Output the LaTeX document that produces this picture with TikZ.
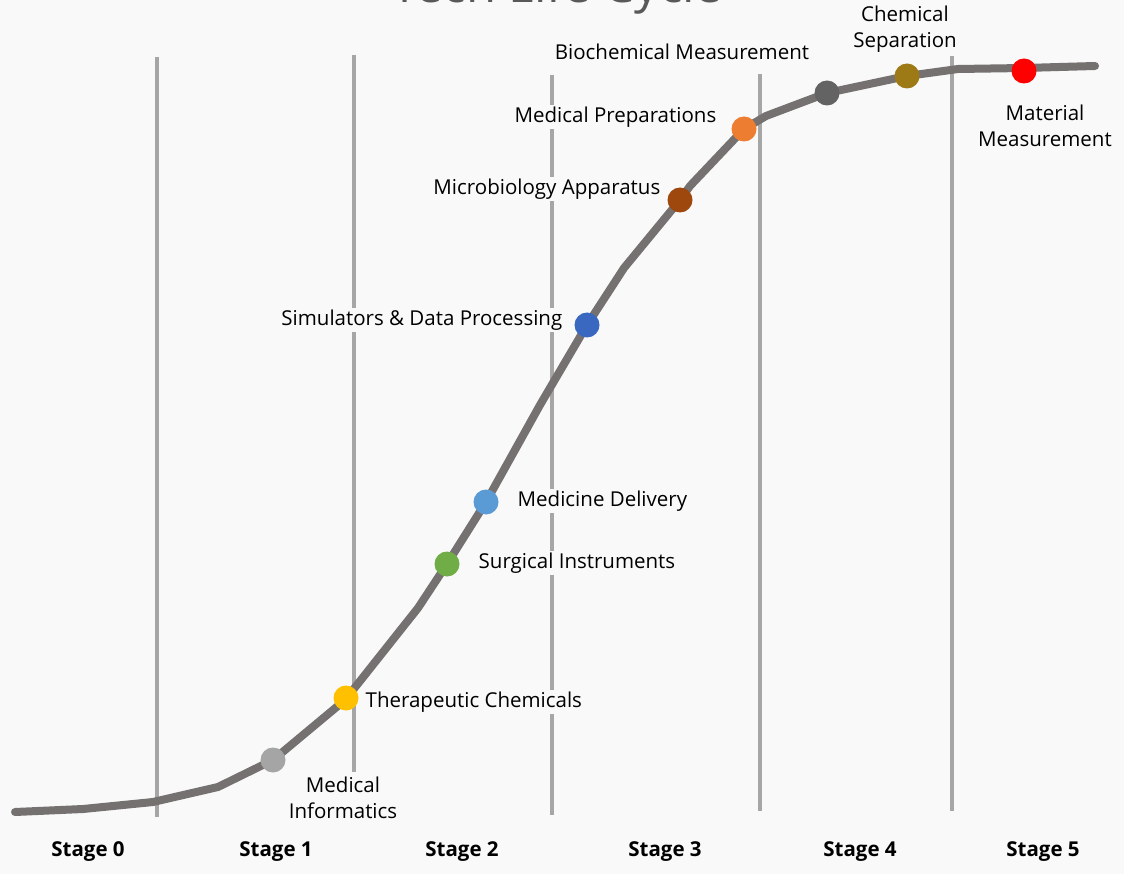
\documentclass[tikz,border=0pt]{standalone}
\usepackage{fontspec}
\setmainfont{Open Sans}
\definecolor{bg}{HTML}{F9F9F9}
\definecolor{vline}{HTML}{A6A6A6}
\definecolor{curve}{HTML}{767171}
\definecolor{titlec}{HTML}{595959}
\begin{document}
\begin{tikzpicture}[x=1pt,y=-1pt,
  vl/.style={draw=vline,line width=3.2pt},
  lbl/.style={fill=bg,inner sep=1.5pt,font=\fontsize{20.5}{25.5}\selectfont,text=black},
  stg/.style={font=\bfseries\fontsize{20.5}{22}\selectfont,text=black},
  dot/.style={circle,minimum size=25pt,inner sep=0pt}]
\clip (0,0) rectangle (1124,874);
\fill[bg] (0,0) rectangle (1124,874);
\node[anchor=base,font=\fontsize{49}{52}\selectfont,text=titlec] (title) at (557,3) {Tech Life Cycle};
% vertical stage dividers
\coordinate (v1t) at (157,57);  \coordinate (v1b) at (157,817);
\coordinate (v2t) at (354,55);  \coordinate (v2b) at (354,772);
\coordinate (v3t) at (552,75);  \coordinate (v3b) at (552,815);
\coordinate (v4t) at (760,74);  \coordinate (v4b) at (760,811);
\coordinate (v5t) at (952,56);  \coordinate (v5b) at (952,811);
\draw[vl] (v1t) -- (v1b);
\draw[vl] (v2t) -- (v2b);
\draw[vl] (v3t) -- (v3b);
\draw[vl] (v4t) -- (v4b);
\draw[vl] (v5t) -- (v5b);
% labels
\node[lbl,align=center] (l1) at (343,798) {Medical\\Informatics};
\node[lbl,anchor=west] (l2) at (364,702) {Therapeutic Chemicals};
\node[lbl,anchor=west] (l3) at (477,563) {Surgical Instruments};
\node[lbl,anchor=west] (l4) at (516,501) {Medicine Delivery};
\node[lbl,anchor=east] (l5) at (564,320) {Simulators \& Data Processing};
\node[lbl,anchor=east] (l6) at (662,189) {Microbiology Apparatus};
\node[lbl,anchor=east] (l7) at (718,117) {Medical Preparations};
\node[lbl] (l8) at (682,52) {Biochemical Measurement};
\node[lbl,align=center] (l9) at (905,29) {Chemical\\Separation};
\node[lbl,align=center] (l10) at (1045,126) {Material\\Measurement};
% curve
\coordinate (c0) at (15,812);
\draw[curve,line width=8pt,line cap=round,line join=round]
  (c0) -- (83,809) -- (153,802) -- (218,787) -- (273,760) -- (345,700) -- (418,608) -- (447,564)
  -- (486,502) -- (540,405) -- (587,325) -- (624,268) -- (680,200) -- (690,186) -- (744,129)
  -- (766,116) -- (827,93) -- (907,76) -- (958,69) -- (1024,68) -- (1095,66);
% dots
\node[dot,fill={rgb,255:red,165;green,165;blue,165}] (d1) at (273,760) {};
\node[dot,fill={rgb,255:red,255;green,192;blue,0}] (d2) at (346,698) {};
\node[dot,fill={rgb,255:red,112;green,173;blue,71}] (d3) at (447,564) {};
\node[dot,fill={rgb,255:red,91;green,155;blue,213}] (d4) at (486,502) {};
\node[dot,fill={rgb,255:red,58;green,103;blue,192}] (d5) at (587,325) {};
\node[dot,fill={rgb,255:red,158;green,72;blue,14}] (d6) at (680,200) {};
\node[dot,fill={rgb,255:red,237;green,125;blue,49}] (d7) at (744,129) {};
\node[dot,fill={rgb,255:red,99;green,99;blue,99}] (d8) at (827,93) {};
\node[dot,fill={rgb,255:red,158;green,122;blue,23}] (d9) at (907,76) {};
\node[dot,fill={rgb,255:red,255;green,0;blue,0}] (d10) at (1024,71) {};
% stage labels
\node[stg] (s0) at (88,852) {Stage 0};
\node[stg] (s1) at (276,852) {Stage 1};
\node[stg] (s2) at (462,852) {Stage 2};
\node[stg] (s3) at (665,852) {Stage 3};
\node[stg] (s4) at (860,852) {Stage 4};
\node[stg] (s5) at (1043,852) {Stage 5};
\end{tikzpicture}
\end{document}
